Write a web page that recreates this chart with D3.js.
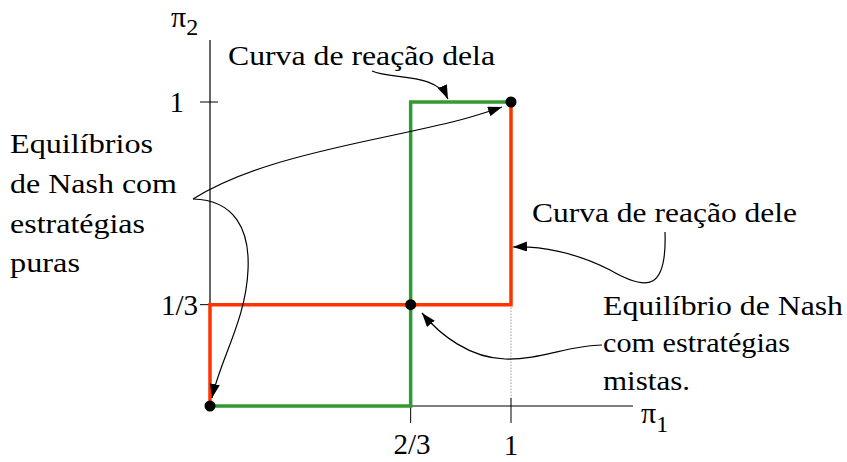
<!DOCTYPE html>
<html><head><meta charset="utf-8">
<script src="https://cdn.jsdelivr.net/npm/d3@7"></script>
<style>body{margin:0;background:#fff}svg{display:block}</style>
</head><body><svg id="c" width="847" height="462"></svg>
<script>
const redCurve = [[0,0],[0,1/3],[1,1/3],[1,1]];
const greenCurve = [[0,0],[2/3,0],[2/3,1],[1,1]];
const equilibria = [[0,0],[2/3,1/3],[1,1]];
const xTicks = [2/3, 1];
const xTickLabels = ["2/3", "1"];
const yTicks = [1/3, 1];
const yTickLabels = ["1/3", "1"];

const FONT = "Liberation Serif";
const svg = d3.select("#c");
const x = d3.scaleLinear().domain([0,1]).range([210,511]);
const y = d3.scaleLinear().domain([0,1]).range([406,102]);

const defs = svg.append("defs");
defs.append("marker").attr("id","ah").attr("markerUnits","userSpaceOnUse")
  .attr("markerWidth",16).attr("markerHeight",12).attr("refX",14).attr("refY",5)
  .attr("orient","auto").append("path").attr("d","M0,0 L14,5 L0,10 z").attr("fill","#000");

// axes
svg.append("line").attr("x1",x(0)).attr("x2",633).attr("y1",y(0)).attr("y2",y(0)).attr("stroke","#000").attr("stroke-width",1.2);
svg.append("line").attr("x1",x(0)).attr("x2",x(0)).attr("y1",40).attr("y2",y(0)).attr("stroke","#000").attr("stroke-width",1.2);
// x ticks
svg.selectAll(".xt").data(xTicks).enter().append("line")
  .attr("x1",d=>x(d)).attr("x2",d=>x(d)).attr("y1",(d,i)=>i===0?y(0):y(0)-8).attr("y2",y(0)+17)
  .attr("stroke","#000").attr("stroke-width",1);
// y ticks
svg.selectAll(".yt").data(yTicks).enter().append("line")
  .attr("x1",x(0)-10).attr("x2",(d,i)=>i===0?x(0):x(0)+8).attr("y1",d=>y(d)).attr("y2",d=>y(d))
  .attr("stroke","#000").attr("stroke-width",1);
// dotted guide
svg.append("line").attr("x1",x(1)).attr("x2",x(1)).attr("y1",y(1/3)).attr("y2",y(0))
  .attr("stroke","#666").attr("stroke-width",1).attr("stroke-dasharray","1,2");

const line = d3.line().x(d=>x(d[0])).y(d=>y(d[1]));
svg.append("path").attr("d",line(redCurve)).attr("fill","none").attr("stroke","#ff3300").attr("stroke-width",3.5);
svg.append("path").attr("d",line(greenCurve)).attr("fill","none").attr("stroke","#339933").attr("stroke-width",3.5);
svg.selectAll(".eq").data(equilibria).enter().append("circle")
  .attr("cx",d=>x(d[0])).attr("cy",d=>y(d[1])).attr("r",5.5).attr("fill","#000");

// tick labels
const xl = [{x:412,y:454},{x:511,y:455}];
svg.selectAll(".xl").data(xTickLabels).enter().append("text")
  .attr("x",(d,i)=>xl[i].x).attr("y",(d,i)=>xl[i].y).attr("text-anchor","middle")
  .attr("font-family",FONT).attr("font-size",29).text(d=>d);
const yl = [{y:315},{y:112}];
svg.selectAll(".yl").data(yTickLabels).enter().append("text")
  .attr("x",(d,i)=>i===0?198:184).attr("y",(d,i)=>yl[i].y).attr("text-anchor","end")
  .attr("font-family",FONT).attr("font-size",29).text(d=>d);

// axis titles
const p2 = svg.append("text").attr("x",171).attr("y",27).attr("font-family",FONT).attr("font-size",30);
p2.append("tspan").text("π");
p2.append("tspan").attr("font-size",24).attr("dy",8).text("2");
const p1 = svg.append("text").attr("x",641).attr("y",423).attr("font-family",FONT).attr("font-size",30);
p1.append("tspan").text("π");
p1.append("tspan").attr("font-size",24).attr("dy",9).text("1");

// annotations
const ann = [
  {t:"Curva de reação dela", x:228, y:65, w:267},
  {t:"Equilíbrios", x:10, y:153, w:143},
  {t:"de Nash com", x:10, y:193, w:167},
  {t:"estratégias", x:10, y:233, w:135},
  {t:"puras", x:10, y:272, w:70},
  {t:"Curva de reação dele", x:532, y:222, w:265},
  {t:"Equilíbrio de Nash", x:603, y:315, w:240},
  {t:"com estratégias", x:603, y:352, w:187},
  {t:"mistas.", x:603, y:390, w:87}
];
svg.selectAll(".ann").data(ann).enter().append("text")
  .attr("x",d=>d.x).attr("y",d=>d.y).attr("font-family",FONT).attr("font-size",28)
  .attr("textLength",d=>d.w).attr("lengthAdjust","spacingAndGlyphs").text(d=>d.t);

// arrows
const arrows = [
  "M372,71 C392,80 436,72 448,99",
  "M193,199 C240,170 300,155 380,138 S470,118 502,107",
  "M193,199 C235,200 250,230 248,270 C246,320 220,360 212,398",
  "M665,232 C667,290 648,292 610,270 C575,252 540,246 513,247",
  "M602,345 C570,345 540,360 505,359 C470,358 440,335 422,313"
];
svg.selectAll(".ar").data(arrows).enter().append("path")
  .attr("d",d=>d).attr("fill","none").attr("stroke","#000").attr("stroke-width",1.2)
  .attr("marker-end","url(#ah)");
</script></body></html>
